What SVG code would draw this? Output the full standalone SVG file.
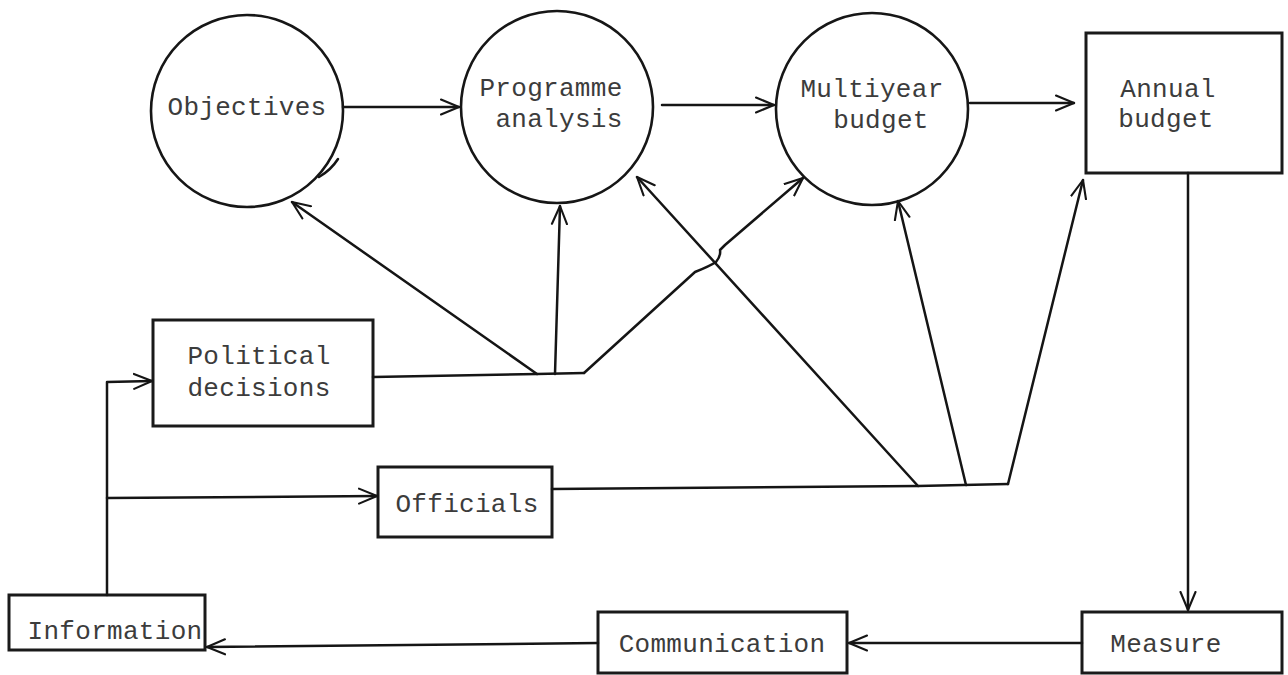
<svg xmlns="http://www.w3.org/2000/svg" width="1288" height="675" viewBox="0 0 1288 675">
  <style>
    .node { fill: none; stroke: #161616; stroke-width: 2.6; }
    .box { fill: none; stroke: #1a1a1a; stroke-width: 3; }
    .lbl { font-family: "Liberation Mono", "DejaVu Sans Mono", monospace; font-size: 26px; fill: #3c3c3c; text-anchor: middle; letter-spacing: 0.3px; }
    .wire { fill: none; stroke: #151515; stroke-width: 2.5; stroke-linejoin: round; stroke-linecap: round; }
    .arrow { marker-end: url(#chev); }
  </style>
  <defs>
    <marker id="chev" viewBox="0 0 20 18" refX="19" refY="9" markerWidth="20" markerHeight="18" markerUnits="userSpaceOnUse" orient="auto">
      <path d="M1,1.5 L19,9 L1,16.5" fill="none" stroke="#151515" stroke-width="2.1" stroke-linecap="round" stroke-linejoin="round"/>
    </marker>
  </defs>
  <rect width="1288" height="675" fill="#ffffff"/>

  <g id="objectives">
    <circle class="node" cx="247" cy="111" r="96"/>
    <text class="lbl" x="247" y="115">Objectives</text>
    <!-- barb on the rim -->
    <path class="wire" d="M338,159 Q331,170 319,177"/>
  </g>

  <g id="programme-analysis">
    <circle class="node" cx="557" cy="107" r="96"/>
    <text class="lbl" x="551" y="96">Programme</text>
    <text class="lbl" x="559" y="127">analysis</text>
  </g>

  <g id="multiyear-budget">
    <circle class="node" cx="872" cy="109" r="96"/>
    <text class="lbl" x="872" y="97">Multiyear</text>
    <text class="lbl" x="881" y="128">budget</text>
  </g>

  <g id="annual-budget">
    <rect class="box" x="1086" y="33" width="196" height="140"/>
    <text class="lbl" x="1168" y="97">Annual</text>
    <text class="lbl" x="1166" y="127">budget</text>
  </g>

  <g id="political-decisions">
    <rect class="box" x="153" y="320" width="220" height="106"/>
    <text class="lbl" x="259" y="364">Political</text>
    <text class="lbl" x="259" y="396">decisions</text>
  </g>

  <g id="officials">
    <rect class="box" x="378" y="467" width="174" height="70"/>
    <text class="lbl" x="467" y="512">Officials</text>
  </g>

  <g id="information">
    <rect class="box" x="9" y="595" width="196" height="55"/>
    <text class="lbl" x="115" y="639">Information</text>
  </g>

  <g id="communication">
    <rect class="box" x="598" y="612" width="249" height="61"/>
    <text class="lbl" x="722" y="652">Communication</text>
  </g>

  <g id="measure">
    <rect class="box" x="1082" y="612" width="200" height="61"/>
    <text class="lbl" x="1166" y="652">Measure</text>
  </g>

  <g id="connectors">
    <!-- main chain across the top -->
    <line class="wire arrow" x1="343" y1="107" x2="459" y2="107"/>
    <line class="wire arrow" x1="662" y1="105" x2="774" y2="105"/>
    <line class="wire arrow" x1="970" y1="103" x2="1074" y2="103"/>

    <!-- annual budget down to measure -->
    <line class="wire arrow" x1="1188" y1="173" x2="1188" y2="610"/>

    <!-- measure -> communication -> information -->
    <line class="wire arrow" x1="1082" y1="643" x2="849" y2="643"/>
    <line class="wire arrow" x1="598" y1="643" x2="207" y2="647"/>

    <!-- information feeds both deciders -->
    <polyline class="wire arrow" points="107,595 107,382 152,381"/>
    <line class="wire arrow" x1="107" y1="498" x2="377" y2="496"/>

    <!-- political decisions fan-out -->
    <polyline class="wire" points="373,377 537,374 584,373"/>
    <line class="wire arrow" x1="537" y1="374" x2="292" y2="202"/>
    <line class="wire arrow" x1="555" y1="374" x2="560" y2="206"/>
    <path class="wire arrow" d="M584,373 L695,272 Q710,266 716,262 Q721,256 720,250 L725,245 L803,178"/>

    <!-- officials fan-out -->
    <polyline class="wire" points="552,489 918,486 1008,484"/>
    <line class="wire arrow" x1="918" y1="486" x2="637" y2="177"/>
    <line class="wire arrow" x1="966" y1="485" x2="898" y2="201"/>
    <line class="wire arrow" x1="1008" y1="484" x2="1083" y2="180"/>
  </g>
</svg>
